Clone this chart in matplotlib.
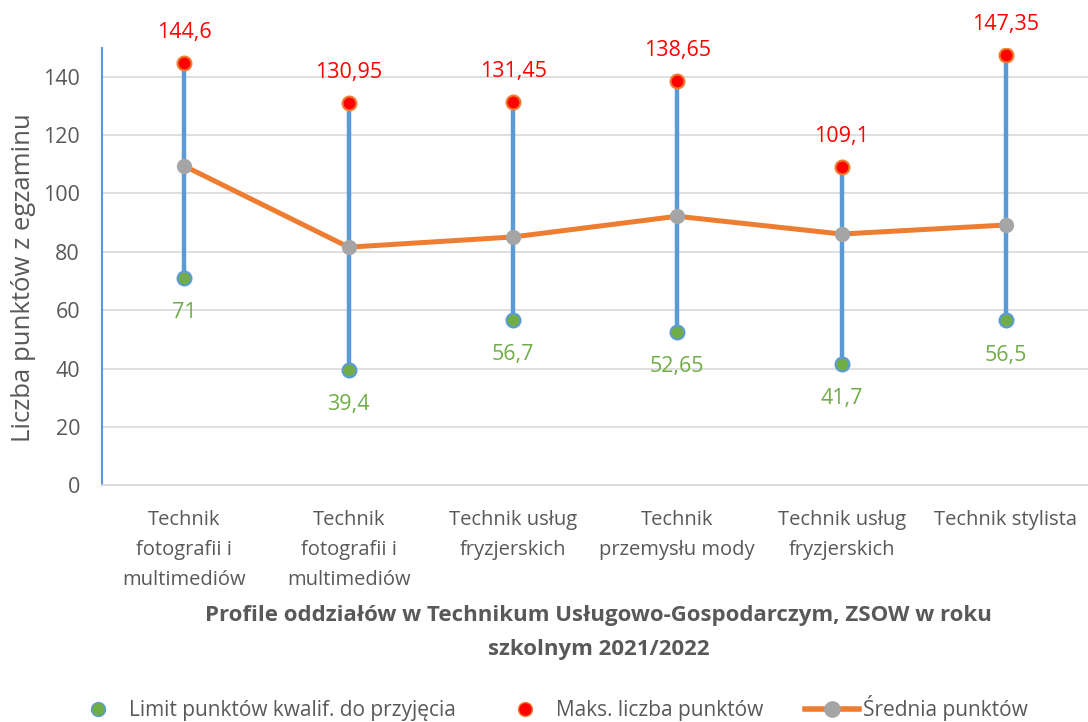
import matplotlib.pyplot as plt
from matplotlib.lines import Line2D

plt.rcParams['font.family'] = ['Open Sans', 'DejaVu Sans']

categories = ["Technik\nfotografii i\nmultimediów", "Technik\nfotografii i\nmultimediów",
              "Technik usług\nfryzjerskich", "Technik\nprzemysłu mody",
              "Technik usług\nfryzjerskich", "Technik stylista"]
limit_pts = [71, 39.4, 56.7, 52.65, 41.7, 56.5]
max_pts = [144.6, 130.95, 131.45, 138.65, 109.1, 147.35]
mean_pts = [109.4, 81.6, 85.1, 92.2, 86.1, 89.2]
max_labels = ["144,6", "130,95", "131,45", "138,65", "109,1", "147,35"]
limit_labels = ["71", "39,4", "56,7", "52,65", "41,7", "56,5"]

blue = "#5B9BD5"
orange = "#ED7D31"
green = "#70AD47"
gray = "#A5A5A5"
txt = "#595959"

fig = plt.figure(figsize=(10.88, 7.22), dpi=100)
ax = fig.add_axes([0.094, 0.328, 0.906, 0.606])

x = list(range(len(categories)))

# pionowe linie min-max
ax.vlines(x, limit_pts, max_pts, color=blue, lw=3.2, zorder=2)
# linia średnich
ax.plot(x, mean_pts, color=orange, lw=3.6, zorder=3)
ax.plot(x, mean_pts, 'o', color=gray, ms=10, mec=gray, zorder=4)
ax.plot(x, limit_pts, 'o', color=green, ms=10, mec=blue, mew=1.5, zorder=4)
ax.plot(x, max_pts, 'o', color='red', ms=10, mec=orange, mew=1.5, zorder=4)

for xi, v, s in zip(x, max_pts, max_labels):
    ax.annotate(s, (xi, v), xytext=(0, 22), textcoords='offset points',
                ha='center', va='center', color='red', fontsize=15.5)
for xi, v, s in zip(x, limit_pts, limit_labels):
    ax.annotate(s, (xi, v), xytext=(0, -25), textcoords='offset points',
                ha='center', va='center', color=green, fontsize=15.5)

ax.set_xlim(-0.5, len(categories) - 0.5)
ax.set_ylim(0, 150)
ax.set_yticks(range(0, 141, 20))
ax.grid(axis='y', color='#D9D9D9', lw=1.2)
ax.set_axisbelow(True)
for s in ['top', 'right']:
    ax.spines[s].set_visible(False)
ax.spines['left'].set_color(blue)
ax.spines['left'].set_linewidth(1.5)
ax.spines['bottom'].set_color('#D9D9D9')
ax.spines['bottom'].set_linewidth(1.2)
ax.tick_params(length=0, labelcolor=txt, labelsize=15.5)
ax.tick_params(axis='y', pad=16)
ax.set_xticks(x)
ax.set_xticklabels(categories, fontsize=14.5, linespacing=1.65, va='top')
ax.tick_params(axis='x', pad=18)

fig.text(0.022, 0.616, "Liczba punktów z egzaminu", rotation=90, ha='center', va='center',
         fontsize=18.5, color=txt)
fig.text(0.55, 0.124, "Profile oddziałów w Technikum Usługowo-Gospodarczym, ZSOW w roku\nszkolnym 2021/2022",
         ha='center', va='center', fontsize=16, fontweight='bold', color=txt, linespacing=1.78)

handles = [
    Line2D([], [], ls='', marker='o', color=green, mec=blue, ms=10),
    Line2D([], [], ls='', marker='o', color='red', mec=orange, ms=10),
    Line2D([], [], color=orange, lw=4, marker='o', mfc=gray, mec=gray, ms=11),
]
fig.legend(handles, ["Limit punktów kwalif. do przyjęcia", "Maks. liczba punktów", "Średnia punktów"],
           loc='center', bbox_to_anchor=(0.505, 0.019), ncol=3, frameon=False,
           fontsize=15, labelcolor=txt, columnspacing=2.0, handlelength=2.6,
           handletextpad=0.2, borderpad=0, borderaxespad=0)

fig.savefig("out.png", dpi=100)
